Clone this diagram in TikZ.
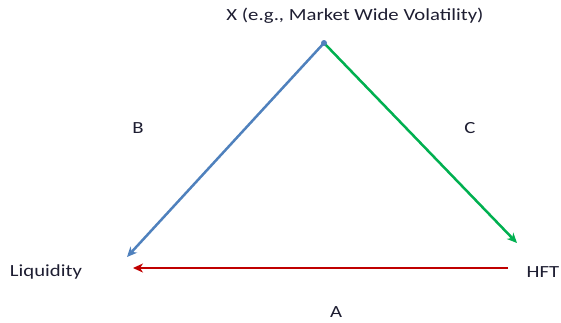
\documentclass[tikz,border=0pt]{standalone}
\usepackage{fontspec}
\setmainfont{Carlito}
\usetikzlibrary{arrows.meta}
\definecolor{cblue}{RGB}{79,129,189}
\definecolor{cgreen}{RGB}{0,176,80}
\definecolor{cred}{RGB}{192,0,0}
\definecolor{ctext}{RGB}{30,30,50}
\newcommand{\wide}[1]{\scalebox{1.22}[1]{#1}}
\begin{document}
\begin{tikzpicture}[x=1pt,y=-1pt,
  lbl/.style={font=\fontsize{17}{20}\selectfont, text=ctext, inner sep=0pt},
  conn/.style={line width=2.5pt, -{Stealth[length=10pt,width=9pt,inset=3pt]}}]
\useasboundingbox (0,0) rectangle (561,322);
\fill[white] (0,0) rectangle (561,322);
\coordinate (apex) at (324,43);
\coordinate (bend) at (127,257);
\coordinate (cend) at (517,243);
\coordinate (astart) at (508,268);
\coordinate (aend) at (133,268);
\node[lbl] (x) at (355,16) {\wide{X (e.g., Market Wide Volatility)}};
\node[lbl] (b) at (138,128) {\wide{B}};
\node[lbl] (c) at (470,128) {\wide{C}};
\node[lbl] (liq) at (46,272) {\wide{Liquidity}};
\node[lbl] (hft) at (543,272) {\wide{HFT}};
\node[lbl] (a) at (336,312) {\wide{A}};
\draw[conn, cblue] (apex) -- (bend);
\draw[conn, cgreen] (apex) -- (cend);
\draw[conn, cred] (astart) -- (aend);
\fill[cblue] (apex) circle (3pt);
\end{tikzpicture}
\end{document}
